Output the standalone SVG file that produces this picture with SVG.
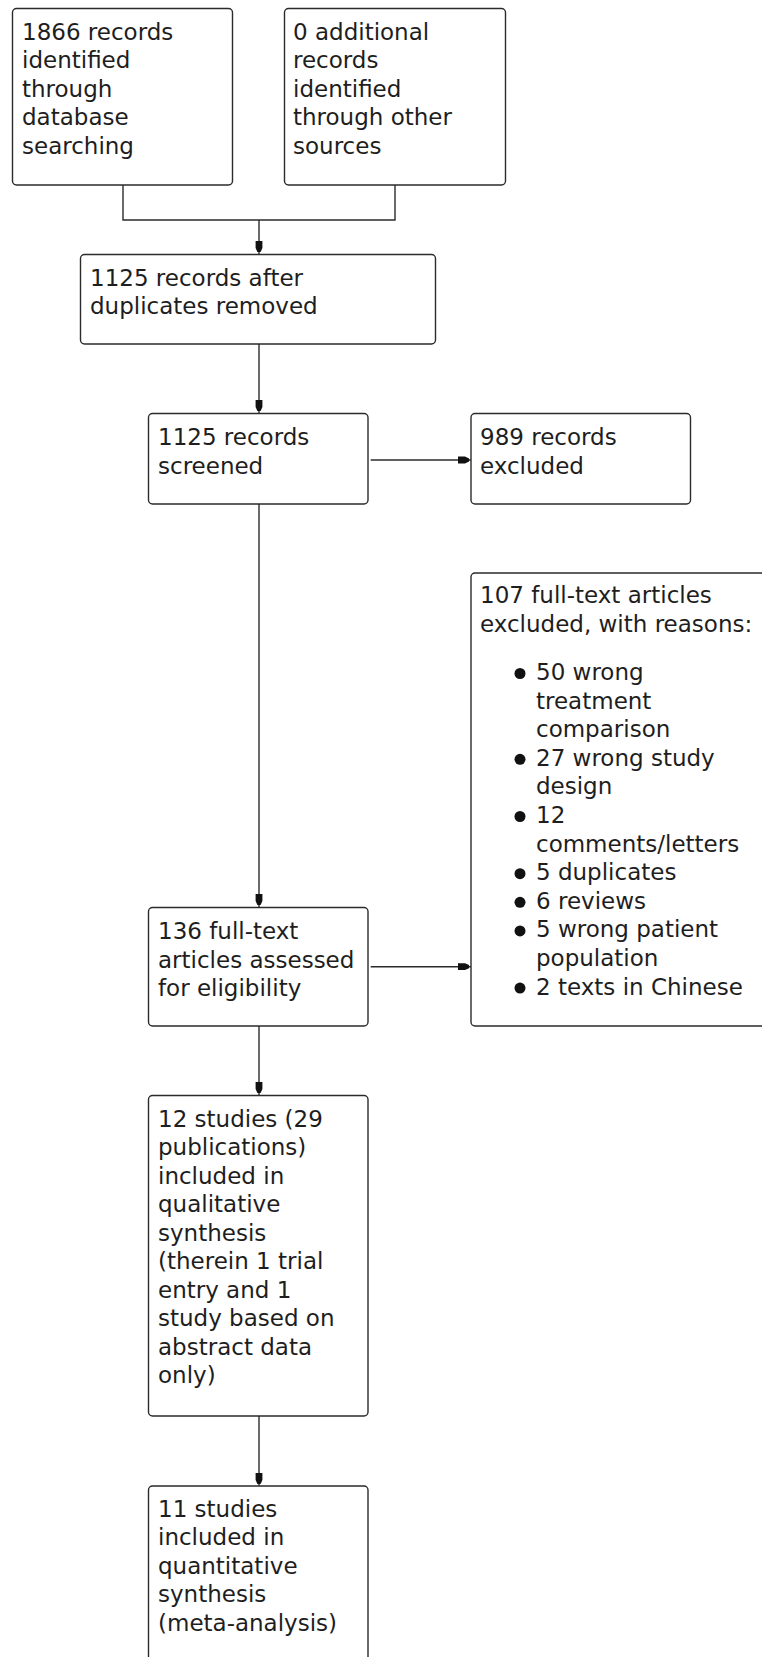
<svg xmlns="http://www.w3.org/2000/svg" width="762" height="1657" viewBox="0 0 762 1657">
<style>
.box{fill:#ffffff;stroke:#2b2b2b;stroke-width:1.4}
.t{font-family:"DejaVu Sans","Liberation Sans",sans-serif;font-size:23px;fill:#1e1e1e}
.c{fill:none;stroke:#2b2b2b;stroke-width:1.4}
.dot{fill:#111}
</style>
<defs>
<marker id="ah" markerUnits="userSpaceOnUse" viewBox="-14 -4 14 8" refX="0" refY="0" markerWidth="14" markerHeight="8" orient="auto">
<path d="M-13,-3.4 L-6,-3.4 L-2,-1.6 L-2,1.6 L-6,3.4 L-13,3.4 Z" fill="#111"/>
</marker>
</defs>
<rect width="762" height="1657" fill="#ffffff"/>
<g id="connectors">
<polyline class="c" points="123,185 123,220 395,220 395,185"/>
<line class="c" x1="259" y1="220" x2="259" y2="254" marker-end="url(#ah)"/>
<line class="c" x1="259" y1="344" x2="259" y2="413" marker-end="url(#ah)"/>
<line class="c" x1="259" y1="504" x2="259" y2="907" marker-end="url(#ah)"/>
<line class="c" x1="370.7" y1="460" x2="471" y2="460" marker-end="url(#ah)"/>
<line class="c" x1="370.7" y1="966.7" x2="471" y2="966.7" marker-end="url(#ah)"/>
<line class="c" x1="259" y1="1026" x2="259" y2="1095" marker-end="url(#ah)"/>
<line class="c" x1="259" y1="1416" x2="259" y2="1486" marker-end="url(#ah)"/>
</g>
<g id="n-database">
<rect class="box" x="12.5" y="8.5" width="220" height="176.5" rx="4"/>
<text class="t" x="22"><tspan x="22" y="39.5">1866 records</tspan><tspan x="22" y="68">identified</tspan><tspan x="22" y="96.5">through</tspan><tspan x="22" y="125">database</tspan><tspan x="22" y="153.5">searching</tspan></text>
</g>
<g id="n-other">
<rect class="box" x="284.5" y="8.5" width="221" height="176.5" rx="4"/>
<text class="t"><tspan x="293" y="39.5">0 additional</tspan><tspan x="293" y="68">records</tspan><tspan x="293" y="96.5">identified</tspan><tspan x="293" y="125">through other</tspan><tspan x="293" y="153.5">sources</tspan></text>
</g>
<g id="n-dedup">
<rect class="box" x="80.5" y="254.5" width="355" height="89.5" rx="4"/>
<text class="t"><tspan x="90" y="285.5">1125 records after</tspan><tspan x="90" y="314">duplicates removed</tspan></text>
</g>
<g id="n-screened">
<rect class="box" x="148.5" y="413.5" width="219.5" height="90.5" rx="4"/>
<text class="t"><tspan x="158" y="445">1125 records</tspan><tspan x="158" y="473.5">screened</tspan></text>
</g>
<g id="n-excluded">
<rect class="box" x="471" y="413.5" width="219.5" height="90.5" rx="4"/>
<text class="t"><tspan x="480" y="445">989 records</tspan><tspan x="480" y="473.5">excluded</tspan></text>
</g>
<g id="n-fulltext-excluded">
<rect class="box" x="471" y="573" width="330" height="453" rx="4"/>
<text class="t"><tspan x="480" y="603">107 full-text articles</tspan><tspan x="480" y="631.5">excluded, with reasons:</tspan></text>
<circle class="dot" cx="520" cy="673.5" r="5.5"/>
<circle class="dot" cx="520" cy="759.3" r="5.5"/>
<circle class="dot" cx="520" cy="816.5" r="5.5"/>
<circle class="dot" cx="520" cy="873.7" r="5.5"/>
<circle class="dot" cx="520" cy="902.3" r="5.5"/>
<circle class="dot" cx="520" cy="930.9" r="5.5"/>
<circle class="dot" cx="520" cy="988.1" r="5.5"/>
<text class="t"><tspan x="536" y="680">50 wrong</tspan><tspan x="536" y="708.6">treatment</tspan><tspan x="536" y="737.2">comparison</tspan><tspan x="536" y="765.8">27 wrong study</tspan><tspan x="536" y="794.4">design</tspan><tspan x="536" y="823">12</tspan><tspan x="536" y="851.6">comments/letters</tspan><tspan x="536" y="880.2">5 duplicates</tspan><tspan x="536" y="908.8">6 reviews</tspan><tspan x="536" y="937.4">5 wrong patient</tspan><tspan x="536" y="966">population</tspan><tspan x="536" y="994.6">2 texts in Chinese</tspan></text>
</g>
<g id="n-assessed">
<rect class="box" x="148.5" y="907.5" width="219.5" height="118.5" rx="4"/>
<text class="t"><tspan x="158" y="939.3">136 full-text</tspan><tspan x="158" y="967.8">articles assessed</tspan><tspan x="158" y="996.3">for eligibility</tspan></text>
</g>
<g id="n-qualitative">
<rect class="box" x="148.5" y="1095.5" width="219.5" height="320.5" rx="4"/>
<text class="t"><tspan x="158" y="1126.7">12 studies (29</tspan><tspan x="158" y="1155.2">publications)</tspan><tspan x="158" y="1183.7">included in</tspan><tspan x="158" y="1212.2">qualitative</tspan><tspan x="158" y="1240.7">synthesis</tspan><tspan x="158" y="1269.2">(therein 1 trial</tspan><tspan x="158" y="1297.7">entry and 1</tspan><tspan x="158" y="1326.2">study based on</tspan><tspan x="158" y="1354.7">abstract data</tspan><tspan x="158" y="1383.2">only)</tspan></text>
</g>
<g id="n-quantitative">
<rect class="box" x="148.5" y="1486" width="219.5" height="200" rx="4"/>
<text class="t"><tspan x="158" y="1516.7">11 studies</tspan><tspan x="158" y="1545.2">included in</tspan><tspan x="158" y="1573.7">quantitative</tspan><tspan x="158" y="1602.2">synthesis</tspan><tspan x="158" y="1630.7">(meta-analysis)</tspan></text>
</g>
</svg>
